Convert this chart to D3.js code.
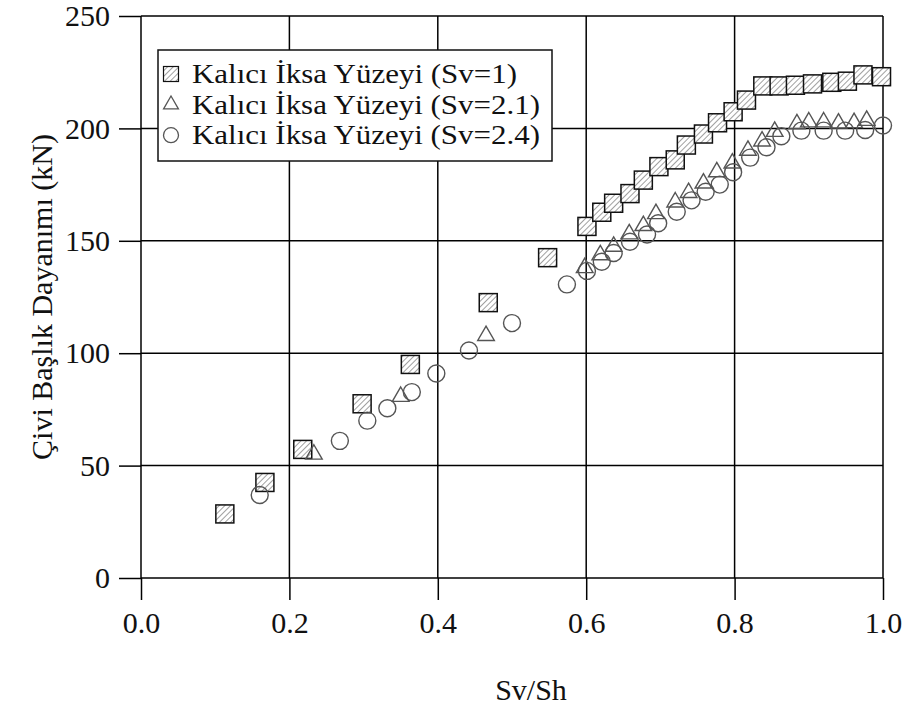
<!DOCTYPE html>
<html lang="tr">
<head>
<meta charset="UTF-8">
<script src="https://d3js.org/d3.v7.min.js"></script>
<style>
    body { margin: 0; background: #fff; }
    svg text { font-family: "Liberation Serif", "Times New Roman", serif; fill: #111; }
</style>
</head>
<body>
<svg id="viz" width="910" height="711"></svg>
<script>
// Sv=1 (kareler)
var sv1X = [0.113, 0.167, 0.218, 0.298, 0.363, 0.468, 0.548, 0.601, 0.621, 0.637, 0.659, 0.677, 0.698, 0.720, 0.735, 0.758, 0.777, 0.798, 0.816, 0.838, 0.860, 0.882, 0.905, 0.931, 0.952, 0.973, 0.998];
var sv1Y = [28.5, 42.5, 57.2, 77.5, 95, 122.5, 142.5, 156.4, 162.7, 166.7, 171, 177, 183, 186, 192.6, 197.5, 202.5, 207.4, 212.6, 218.9, 218.9, 219.2, 219.8, 220.5, 221, 223.8, 223];
// Sv=2.1 (üçgenler)
var sv21X = [0.233, 0.350, 0.465, 0.598, 0.619, 0.637, 0.658, 0.677, 0.694, 0.720, 0.738, 0.758, 0.776, 0.797, 0.818, 0.837, 0.854, 0.884, 0.900, 0.920, 0.940, 0.961, 0.978];
var sv21Y = [55, 80.7, 107.8, 138, 143.7, 147.5, 153, 156.7, 162, 167.2, 171.4, 175.6, 180.6, 184.5, 190.2, 194.3, 198.6, 202, 202.8, 202.8, 202.3, 202.5, 203.5];
// Sv=2.4 (daireler)
var sv24X = [0.160, 0.268, 0.305, 0.332, 0.365, 0.398, 0.442, 0.500, 0.574, 0.601, 0.621, 0.637, 0.659, 0.682, 0.697, 0.722, 0.742, 0.761, 0.780, 0.798, 0.821, 0.843, 0.863, 0.890, 0.920, 0.949, 0.976, 1.0];
var sv24Y = [36.9, 61, 70, 75.5, 82.7, 91, 101.2, 113.4, 130.6, 136.6, 140.7, 144.6, 149.6, 152.8, 157.8, 162.9, 168, 171.8, 175, 180.5, 187, 191.6, 196.5, 199, 199, 199, 199.3, 201.3];

var xTicks = [0, 0.2, 0.4, 0.6, 0.8, 1.0];
var yTicks = [0, 50, 100, 150, 200, 250];
var legendLabels = ["Kalıcı İksa Yüzeyi (Sv=1)", "Kalıcı İksa Yüzeyi (Sv=2.1)", "Kalıcı İksa Yüzeyi (Sv=2.4)"];

var svg = d3.select("#viz");
var x = d3.scaleLinear().domain([0, 1]).range([141, 883]);
var y = d3.scaleLinear().domain([0, 250]).range([578, 16]);

var defs = svg.append("defs");
var pat = defs.append("pattern")
    .attr("id", "hatch")
    .attr("patternUnits", "userSpaceOnUse")
    .attr("width", 4).attr("height", 4)
    .attr("patternTransform", "rotate(45)");
pat.append("rect").attr("width", 4).attr("height", 4).attr("fill", "#fff");
pat.append("line").attr("x1", 0).attr("y1", 0).attr("x2", 0).attr("y2", 4)
    .attr("stroke", "#777").attr("stroke-width", 1.4);

// grid
var grid = svg.append("g");
grid.selectAll(".vx").data(xTicks).enter().append("line")
    .attr("x1", function(d) { return x(d); }).attr("x2", function(d) { return x(d); })
    .attr("y1", y(250)).attr("y2", y(0))
    .attr("stroke", "#000").attr("stroke-width", 1.5);
grid.selectAll(".hy").data(yTicks).enter().append("line")
    .attr("x1", x(0)).attr("x2", x(1))
    .attr("y1", function(d) { return y(d); }).attr("y2", function(d) { return y(d); })
    .attr("stroke", "#000").attr("stroke-width", 1.5);

// axes
svg.append("g")
    .attr("transform", "translate(0," + y(0) + ")")
    .call(d3.axisBottom(x).tickValues(xTicks).tickFormat(d3.format(".1f")).tickSize(22).tickPadding(12));
svg.append("g")
    .attr("transform", "translate(" + x(0) + ",0)")
    .call(d3.axisLeft(y).tickValues(yTicks).tickSize(22).tickPadding(9));
svg.selectAll(".domain").remove();
svg.selectAll(".tick line").attr("stroke", "#000").attr("stroke-width", 1.5);
svg.selectAll(".tick text").attr("font-size", 30).attr("font-family", "Liberation Serif").attr("fill", "#111");

// titles
svg.append("text")
    .attr("x", 531).attr("y", 700)
    .attr("text-anchor", "middle").attr("font-size", 30)
    .text("Sv/Sh");
svg.append("text")
    .attr("transform", "translate(52," + y(125) + ") rotate(-90)")
    .attr("text-anchor", "middle").attr("font-size", 30)
    .text("Çivi Başlık Dayanımı (kN)");

// series
var s1 = sv1X.map(function(d, i) { return [d, sv1Y[i]]; });
var s21 = sv21X.map(function(d, i) { return [d, sv21Y[i]]; });
var s24 = sv24X.map(function(d, i) { return [d, sv24Y[i]]; });

svg.append("g").selectAll("rect").data(s1).enter().append("rect")
    .attr("x", function(d) { return x(d[0]) - 9; })
    .attr("y", function(d) { return y(d[1]) - 9; })
    .attr("width", 18).attr("height", 18)
    .attr("fill", "url(#hatch)").attr("stroke", "#111").attr("stroke-width", 1.5);

var tri = d3.symbol().type(d3.symbolTriangle).size(120);
svg.append("g").selectAll("path").data(s21).enter().append("path")
    .attr("d", tri)
    .attr("transform", function(d) { return "translate(" + x(d[0]) + "," + y(d[1]) + ")"; })
    .attr("fill", "none").attr("stroke", "#555").attr("stroke-width", 1.4);

svg.append("g").selectAll("circle").data(s24).enter().append("circle")
    .attr("cx", function(d) { return x(d[0]); })
    .attr("cy", function(d) { return y(d[1]); })
    .attr("r", 8.5)
    .attr("fill", "none").attr("stroke", "#555").attr("stroke-width", 1.4);

// legend
var rowH = 30.6;
var legendW = [325, 348, 348];
var lg = svg.append("g");
lg.append("rect")
    .attr("x", 158).attr("y", 50).attr("width", 394).attr("height", 111)
    .attr("fill", "#fff").attr("stroke", "#111").attr("stroke-width", 1.5);
var rows = lg.selectAll(".row").data(legendLabels).enter().append("g")
    .attr("transform", function(d, i) { return "translate(171," + (74 + i * rowH) + ")"; });
rows.filter(function(d, i) { return i === 0; }).append("rect")
    .attr("x", -7.5).attr("y", -7.5).attr("width", 15).attr("height", 15)
    .attr("fill", "url(#hatch)").attr("stroke", "#111").attr("stroke-width", 1.2);
rows.filter(function(d, i) { return i === 1; }).append("path")
    .attr("d", d3.symbol().type(d3.symbolTriangle).size(95))
    .attr("fill", "none").attr("stroke", "#555").attr("stroke-width", 1.3);
rows.filter(function(d, i) { return i === 2; }).append("circle")
    .attr("r", 7.5).attr("fill", "none").attr("stroke", "#555").attr("stroke-width", 1.3);
rows.append("text")
    .attr("x", 21).attr("y", 9)
    .attr("font-size", 27.5)
    .attr("textLength", function(d, i) { return legendW[i]; })
    .attr("lengthAdjust", "spacingAndGlyphs")
    .text(function(d) { return d; });
</script>
</body>
</html>
